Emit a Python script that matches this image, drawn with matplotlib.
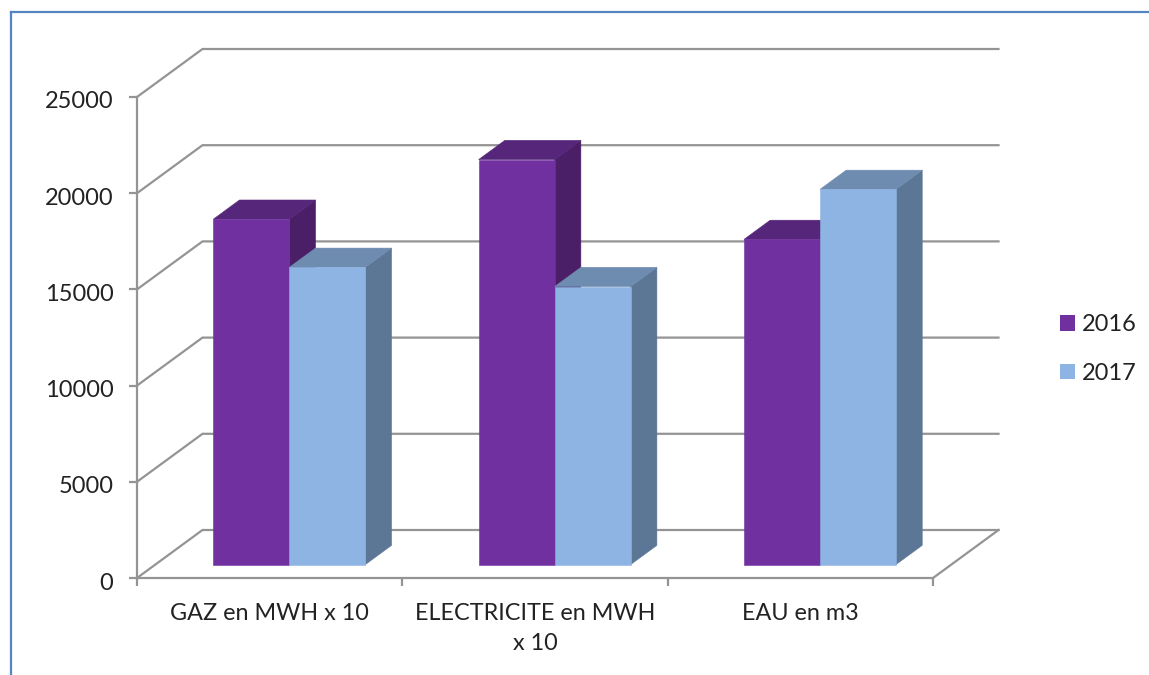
import matplotlib
matplotlib.use('Agg')
import matplotlib.pyplot as plt
from matplotlib.lines import Line2D
from matplotlib.patches import Patch, Polygon
from matplotlib.transforms import ScaledTranslation

plt.rcParams['font.family'] = ['Lato', 'DejaVu Sans']

categories = ['GAZ en MWH x 10', 'ELECTRICITE en MWH\nx 10', 'EAU en m3']
years = ['2016', '2017']
values_2016 = [17950, 21050, 16900]
values_2017 = [15450, 14450, 19500]
y_ticks = [0, 5000, 10000, 15000, 20000, 25000]

W, H = 1149, 675
GRID = '#949494'
TEXT = '#222222'

fig = plt.figure(figsize=(W / 100, H / 100), dpi=100)
ax = fig.add_axes([137 / W, 1 - 578 / H, 796 / W, 481 / H])
ax.set_xlim(0, 3)
ax.set_ylim(0, 25000)
ax.patch.set_alpha(0)
for s in ['top', 'right']:
    ax.spines[s].set_visible(False)
for s in ['left', 'bottom']:
    ax.spines[s].set_color(GRID)
    ax.spines[s].set_linewidth(1.6)

# oblique projection: how far one full unit of depth moves a point
depth_dx = 65.5 / (796 / 3)
depth_dy = 48 / (481 / 25000)


def project(x, y, d):
    return x + d * depth_dx, y + d * depth_dy


def box(x0, x1, val, d0, d1, front, top, side):
    p = [project(x0, 0, d0), project(x1, 0, d0), project(x1, val, d0), project(x0, val, d0)]
    t = [project(x0, val, d0), project(x1, val, d0), project(x1, val, d1), project(x0, val, d1)]
    r = [project(x1, 0, d0), project(x1, 0, d1), project(x1, val, d1), project(x1, val, d0)]
    ax.add_patch(Polygon(r, closed=True, fc=side, ec=side, lw=0.4, zorder=3))
    ax.add_patch(Polygon(t, closed=True, fc=top, ec=top, lw=0.4, zorder=3))
    ax.add_patch(Polygon(p, closed=True, fc=front, ec=front, lw=0.4, zorder=3))


# back wall gridlines with their slanted run to the front axis
for v in y_ticks:
    bx, by = project(0, v, 1)
    ex, ey = project(3, v, 1)
    ax.plot([0, bx, ex], [v, by, ey], color=GRID, lw=1.6, zorder=1, clip_on=False,
            solid_joinstyle='miter')
# floor edge on the right side
ax.plot([3, project(3, 0, 1)[0]], [0, project(3, 0, 1)[1]], color=GRID, lw=1.6, zorder=1,
        clip_on=False)

bar_w = 0.2865
colors_2016 = ('#7030a0', '#55267a', '#4a1f68')
colors_2017 = ('#8db4e2', '#6e8bb0', '#5c7695')
for i in range(len(categories)):
    c = i + 0.5 + 0.005
    box(c - bar_w, c, values_2016[i], 0.28, 0.68, *colors_2016)
    box(c, c + bar_w, values_2017[i], 0.28, 0.68, *colors_2017)

ax.set_yticks(y_ticks)
ax.set_yticklabels([str(v) for v in y_ticks], fontsize=17, color=TEXT)
ax.set_xticks(range(len(categories) + 1))
ax.set_xticklabels([])
ax.set_xticks([i + 0.5 for i in range(len(categories))], minor=True)
ax.set_xticklabels(categories, minor=True, fontsize=16.8, color=TEXT, linespacing=1.5)
ax.tick_params(axis='both', which='major', color=GRID, width=1.6, length=6)
ax.tick_params(axis='y', pad=11)
ax.tick_params(axis='x', which='minor', length=0, pad=18)

# nudge the value labels down a little
for lab in ax.get_yticklabels():
    lab.set_transform(lab.get_transform() + ScaledTranslation(0, -3 / 100, fig.dpi_scale_trans))

handles = [Patch(fc=colors_2016[0], ec='none'), Patch(fc=colors_2017[0], ec='none')]
leg = fig.legend(handles, years, loc='center left', bbox_to_anchor=(1039 / W, 1 - 349 / H),
                 frameon=False, fontsize=17, handlelength=0.64, handleheight=0.64,
                 handletextpad=0.28, labelspacing=1.17, labelcolor=TEXT)

# frame of the surrounding block, top and left sides only
frame = '#5585c1'
fig.add_artist(Line2D([11 / W, 11 / W], [0, 1 - 11.5 / H], color=frame, lw=1.6))
fig.add_artist(Line2D([11 / W, 1], [1 - 11.5 / H, 1 - 11.5 / H], color=frame, lw=1.6))

fig.savefig('out.png', dpi=100)
